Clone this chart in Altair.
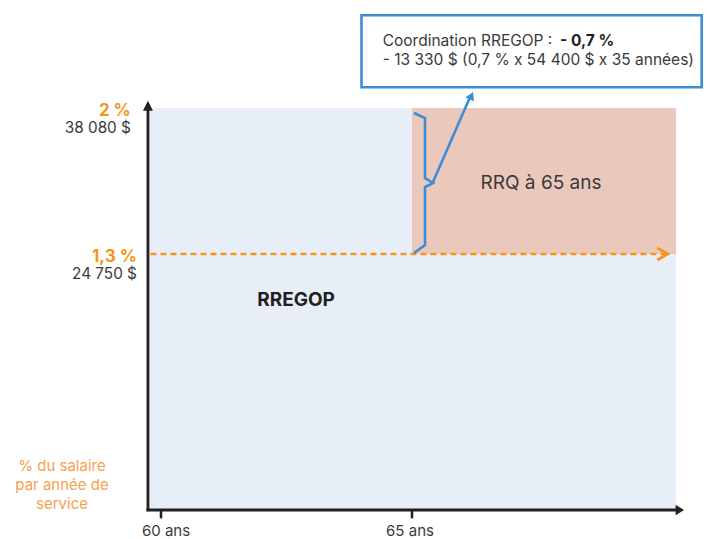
import altair as alt
import pandas as pd

# ---------------- data ----------------
ages = [60, 65]
age_labels = ["60 ans", "65 ans"]
rates = [2.0, 1.3]
rate_labels = ["2 %", "1,3 %"]
salaries = ["38 080 $", "24 750 $"]
box_line1 = "Coordination RREGOP :"
box_bold = "- 0,7 %"
box_line2 = "- 13 330 $ (0,7 % x 54 400 $ x 35 années)"
rrq_label = "RRQ à 65 ans"
rregop_label = "RREGOP"
ytitle_lines = ["% du salaire", "par année de", "service"]
start_age = 59.74      # origin of the drawing
end_age = 70.26        # right edge of the areas
base_rate = 0.0726     # baseline of the drawing

# ---------------- layout / scales ----------------
W, H = 695, 531
PX_YEAR = 50.2       # px per year
X60 = 153            # canvas x of age 60
PX_RATE = 208.57     # px per percentage point
Y2 = 100             # canvas y of 2 %

xdom = [60 - X60 / PX_YEAR, 60 + (W - X60) / PX_YEAR]
ydom = [2 - (H - Y2) / PX_RATE, 2 + Y2 / PX_RATE]
xs = alt.Scale(domain=xdom, nice=False, zero=False)
ys = alt.Scale(domain=ydom, nice=False, zero=False)

FONT = "Inter"
DARK = "#231F20"
TXT = "#3A3A3A"
ORANGE = "#F7941D"
ORANGE_LIGHT = "#F6A04D"
BLUE = "#3B8DD4"
top_rate, mid_rate = rates[0], rates[1]
ret_age = ages[1]


def X(field, **kw):
    return alt.X(field, type="quantitative", scale=xs, axis=None, **kw)


def Y(field, **kw):
    return alt.Y(field, type="quantitative", scale=ys, axis=None, **kw)


def rate_at(canvas_y):
    return 2 - (canvas_y - Y2) / PX_RATE


# areas
areas = pd.DataFrame({
    "x": [start_age, ret_age],
    "x2": [end_age, end_age],
    "y": [base_rate, mid_rate],
    "y2": [top_rate, top_rate],
    "c": ["RREGOP", "RRQ"],
})
area_layer = alt.Chart(areas).mark_rect().encode(
    x=X("x"), x2="x2", y=Y("y"), y2="y2",
    color=alt.Color("c:N", scale=alt.Scale(domain=["RREGOP", "RRQ"],
                                           range=["#E8EEF8", "#EBC8BC"]), legend=None),
)

# dashed orange line at 1.3 %
dash_df = pd.DataFrame({"x": [start_age + 0.05], "x2": [70.08], "y": [mid_rate]})
dash_layer = alt.Chart(dash_df).mark_rule(
    color=ORANGE, strokeWidth=2.6, strokeDash=[6, 4]
).encode(x=X("x"), x2="x2", y=Y("y"))
chev_layer = alt.Chart(pd.DataFrame({"x": [70.1], "y": [mid_rate]})).mark_point(
    shape="M-1.8,-1L0,0L-1.8,1", size=144, filled=False, stroke=ORANGE, strokeWidth=2.6, opacity=1
).encode(x=X("x"), y=Y("y"))

# axes lines
vaxis = alt.Chart(pd.DataFrame({"x": [start_age], "y": [base_rate - 0.006], "y2": [2.02]})).mark_rule(
    color=DARK, strokeWidth=2.8).encode(x=X("x"), y=Y("y"), y2="y2")
haxis = alt.Chart(pd.DataFrame({"x": [start_age - 0.03], "x2": [70.3], "y": [base_rate]})).mark_rule(
    color=DARK, strokeWidth=2.8).encode(x=X("x"), x2="x2", y=Y("y"))
up_head = alt.Chart(pd.DataFrame({"x": [start_age], "y": [2 + 7.3 / PX_RATE]})).mark_point(
    shape="M0,0L1,2L-1,2Z", size=100, filled=True, color=DARK, opacity=1
).encode(x=X("x"), y=Y("y"))
right_head = alt.Chart(pd.DataFrame({"x": [70.42], "y": [base_rate]})).mark_point(
    shape="M0,0L-1.6,-1L-1.6,1Z", size=112, filled=True, color=DARK, opacity=1
).encode(x=X("x"), y=Y("y"))

# ticks + labels
ticks_df = pd.DataFrame({"x": ages, "lab": age_labels, "y": [base_rate] * 2,
                         "y2": [base_rate - 0.04] * 2, "lx": [60.1, 64.96]})
tick_layer = alt.Chart(ticks_df).mark_rule(color=DARK, strokeWidth=2.5).encode(
    x=X("x"), y=Y("y"), y2="y2")
tick_text = alt.Chart(ticks_df).mark_text(
    font=FONT, fontSize=15, color=TXT, align="center", baseline="alphabetic"
).encode(x=X("lx"), y=alt.value(527.5), text="lab:N")

# rate labels on the left
rl = pd.DataFrame({"y": rates, "lab": rate_labels, "sal": salaries,
                   "x": [59.40, 59.52]})
rate_text = alt.Chart(rl).mark_text(
    font=FONT, fontSize=17, fontWeight="bold", color=ORANGE, align="right",
    baseline="alphabetic", dy=7.7
).encode(x=X("x"), y=Y("y"), text="lab:N")
sal_text = alt.Chart(rl).mark_text(
    font=FONT, fontSize=15.3, color=TXT, align="right", baseline="alphabetic", dy=25
).encode(x=X("x"), y=Y("y"), text="sal:N")

# y-title (bottom left)
yt = pd.DataFrame({"t": ytitle_lines,
                   "y": [rate_at(462.7 + 19 * i) for i in range(3)]})
ytitle = alt.Chart(yt).mark_text(
    font=FONT, fontSize=15, color=ORANGE_LIGHT, align="center", baseline="alphabetic"
).encode(x=alt.value(54), y=Y("y"), text="t:N")

# brace
brace_df = pd.DataFrame({
    "x": [65.04, 65.259, 65.259, 65.418, 65.259, 65.259, 65.04],
    "y": [1.976, 1.952, 1.6644, 1.6404, 1.6212, 1.3431, 1.3048],
    "o": list(range(7)),
})
brace = alt.Chart(brace_df).mark_line(color=BLUE, strokeWidth=2.6, strokeJoin="miter").encode(
    x=X("x"), y=Y("y"), order="o:Q")

# arrow from brace to box
arr_df = pd.DataFrame({"x": [65.418, 66.17], "y": [1.6452, 2.06], "o": [0, 1]})
arrow = alt.Chart(arr_df).mark_line(color=BLUE, strokeWidth=2.6).encode(
    x=X("x"), y=Y("y"), order="o:Q")
arrow_head = alt.Chart(pd.DataFrame({"x": [66.215], "y": [2.0767]})).mark_point(
    shape="M0,0L1,1.7L-1,1.7Z", size=90, filled=True, color=BLUE, angle=24, opacity=1
).encode(x=X("x"), y=Y("y"))

# annotation box
box = alt.Chart(pd.DataFrame({"a": [0]})).mark_rect(
    fill="white", stroke=BLUE, strokeWidth=2.6
).encode(x=alt.value(353.5), x2=alt.value(693.7), y=alt.value(7.3), y2=alt.value(79.3))
box_t1 = alt.Chart(pd.DataFrame({"t": [box_line1]})).mark_text(
    font=FONT, fontSize=15.5, color=TXT, align="left", baseline="alphabetic"
).encode(x=alt.value(374.7), y=alt.value(38), text="t:N")
box_tb = alt.Chart(pd.DataFrame({"t": [box_bold]})).mark_text(
    font=FONT, fontSize=15.5, fontWeight="bold", color=DARK, align="left", baseline="alphabetic"
).encode(x=alt.value(552), y=alt.value(38), text="t:N")
box_t2 = alt.Chart(pd.DataFrame({"t": [box_line2]})).mark_text(
    font=FONT, fontSize=15.5, color=TXT, align="left", baseline="alphabetic"
).encode(x=alt.value(374.7), y=alt.value(57), text="t:N")

# area labels
rrq = alt.Chart(pd.DataFrame({"t": [rrq_label], "x": [67.57], "y": [rate_at(181.3)]})).mark_text(
    font=FONT, fontSize=19, color=TXT, align="center", baseline="alphabetic"
).encode(x=X("x"), y=Y("y"), text="t:N")
rregop = alt.Chart(pd.DataFrame({"t": [rregop_label], "x": [62.69], "y": [rate_at(298)]})).mark_text(
    font=FONT, fontSize=19, fontWeight="bold", color=DARK, align="center", baseline="alphabetic"
).encode(x=X("x"), y=Y("y"), text="t:N")

chart = alt.layer(
    area_layer, dash_layer, chev_layer, brace, arrow, arrow_head,
    vaxis, haxis, up_head, right_head, tick_layer, tick_text,
    rate_text, sal_text, ytitle, box, box_t1, box_tb, box_t2, rrq, rregop,
).properties(
    width=W, height=H, padding=0, autosize="none", background="white"
).configure_view(stroke=None)

chart.save("out.html", embed_options={"renderer": "svg", "actions": False})
